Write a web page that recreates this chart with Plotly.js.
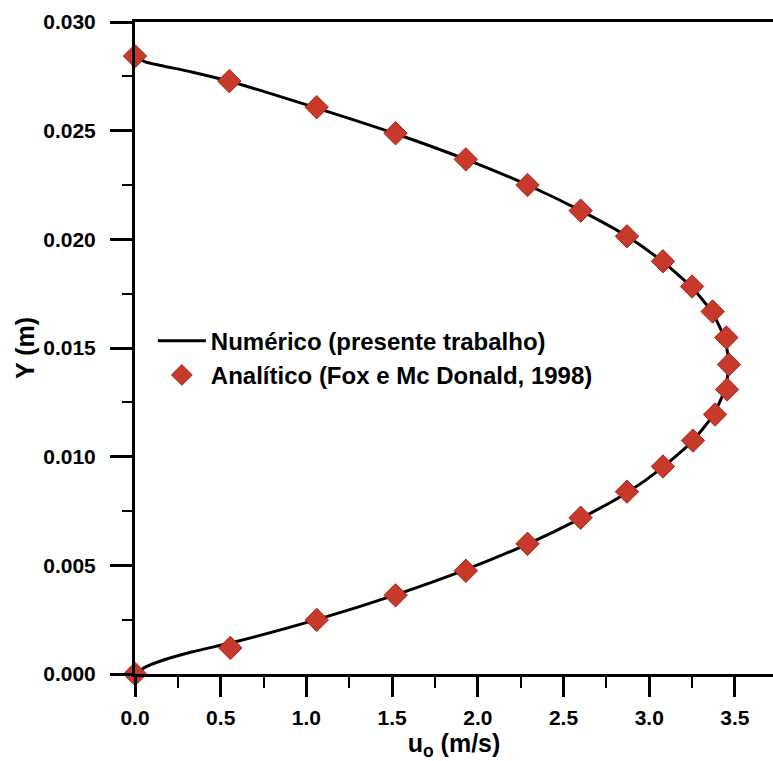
<!DOCTYPE html>
<html>
<head>
<meta charset="utf-8">
<script src="https://cdn.plot.ly/plotly-3.0.1.min.js"></script>
<style>html,body{margin:0;padding:0;background:#fff;}#chart{width:773px;height:761px;}</style>
</head>
<body>
<div id="chart"></div>
<script>
// Numerical profile (line)
const numU = [0, 0.06, 0.15, 0.33, 0.58, 1.06, 1.52, 1.93, 2.29, 2.60, 2.87, 3.08, 3.25, 3.37, 3.44, 3.465, 3.44, 3.37, 3.25, 3.08, 2.87, 2.60, 2.29, 1.93, 1.52, 1.06, 0.56, 0.33, 0.15, 0.06, 0];
const numY = [0, 0.00032, 0.0006, 0.00101, 0.00147, 0.00250, 0.00364, 0.00480, 0.00598, 0.00716, 0.00834, 0.00952, 0.01070, 0.01188, 0.01306, 0.01424, 0.01542, 0.01660, 0.01778, 0.01896, 0.02014, 0.02132, 0.02250, 0.02368, 0.02486, 0.02604, 0.02725, 0.0277, 0.0280, 0.02817, 0.02845];
// Analytical profile (diamonds)
const anaU = [0, 0.556, 1.06, 1.52, 1.93, 2.29, 2.60, 2.87, 3.08, 3.255, 3.384, 3.454, 3.465, 3.45, 3.37, 3.25, 3.08, 2.87, 2.60, 2.29, 1.93, 1.52, 1.06, 0.55, 0];
const anaY = [0, 0.00120, 0.00249, 0.00362, 0.00475, 0.00599, 0.00719, 0.00839, 0.00955, 0.01074, 0.01194, 0.01309, 0.01424, 0.01548, 0.01668, 0.01783, 0.01899, 0.02014, 0.02132, 0.02250, 0.02368, 0.02488, 0.02608, 0.02728, 0.02843];
const seriesNames = ["Numérico (presente trabalho)", "Analítico (Fox e Mc Donald, 1998)"];
const xTitle = "u<sub>o</sub> (m/s)";
const yTitle = "Y (m)";

const FONT = "Liberation Sans, Arial, sans-serif";

const traces = [
  {
    x: numU, y: numY, type: "scatter", mode: "lines", name: seriesNames[0],
    line: {color: "#000000", width: 3, shape: "spline", smoothing: 0.6},
    cliponaxis: false
  },
  {
    x: anaU, y: anaY, type: "scatter", mode: "markers", name: seriesNames[1],
    marker: {symbol: "diamond", size: 18, color: "#c8392c", line: {color: "#9e2a1f", width: 1}},
    cliponaxis: false
  }
];

const layout = {
  width: 773, height: 761,
  margin: {l: 135, r: 0, t: 22, b: 87, pad: 0},
  paper_bgcolor: "#ffffff", plot_bgcolor: "#ffffff",
  font: {family: FONT, color: "#000000", weight: "bold"},
  showlegend: true,
  legend: {
    x: 0.028, y: 0.545, xanchor: "left", yanchor: "top",
    bgcolor: "rgba(0,0,0,0)", borderwidth: 0,
    font: {family: FONT, size: 24, color: "#000", weight: "bold"},
    itemwidth: 48, tracegroupgap: 0
  },
  xaxis: {
    range: [0, 3.722], tick0: 0, dtick: 0.5, tickformat: ".1f",
    showgrid: false, zeroline: false,
    showline: true, linecolor: "#000", linewidth: 3, mirror: true,
    ticks: "outside", ticklen: 20, tickwidth: 3, tickcolor: "#000",
    ticklabelstandoff: 3,
    tickfont: {family: FONT, size: 21, color: "#000", weight: "bold"},
    minor: {dtick: 0.25, ticks: "outside", ticklen: 11, tickwidth: 2, tickcolor: "#000", showgrid: false},
    title: {text: xTitle, font: {family: FONT, size: 25, color: "#000", weight: "bold"}, standoff: 10}
  },
  yaxis: {
    range: [0, 0.03], tick0: 0, dtick: 0.005, tickformat: ".3f",
    showgrid: false, zeroline: false,
    showline: true, linecolor: "#000", linewidth: 3, mirror: false,
    ticks: "outside", ticklen: 22, tickwidth: 3, tickcolor: "#000",
    ticklabelstandoff: 10,
    tickfont: {family: FONT, size: 21, color: "#000", weight: "bold"},
    minor: {dtick: 0.0025, ticks: "outside", ticklen: 10, tickwidth: 2, tickcolor: "#000", showgrid: false},
    title: {text: yTitle, font: {family: FONT, size: 25, color: "#000", weight: "bold"}, standoff: 2}
  }
};

Plotly.newPlot("chart", traces, layout, {displayModeBar: false, staticPlot: true});
</script>
</body>
</html>
